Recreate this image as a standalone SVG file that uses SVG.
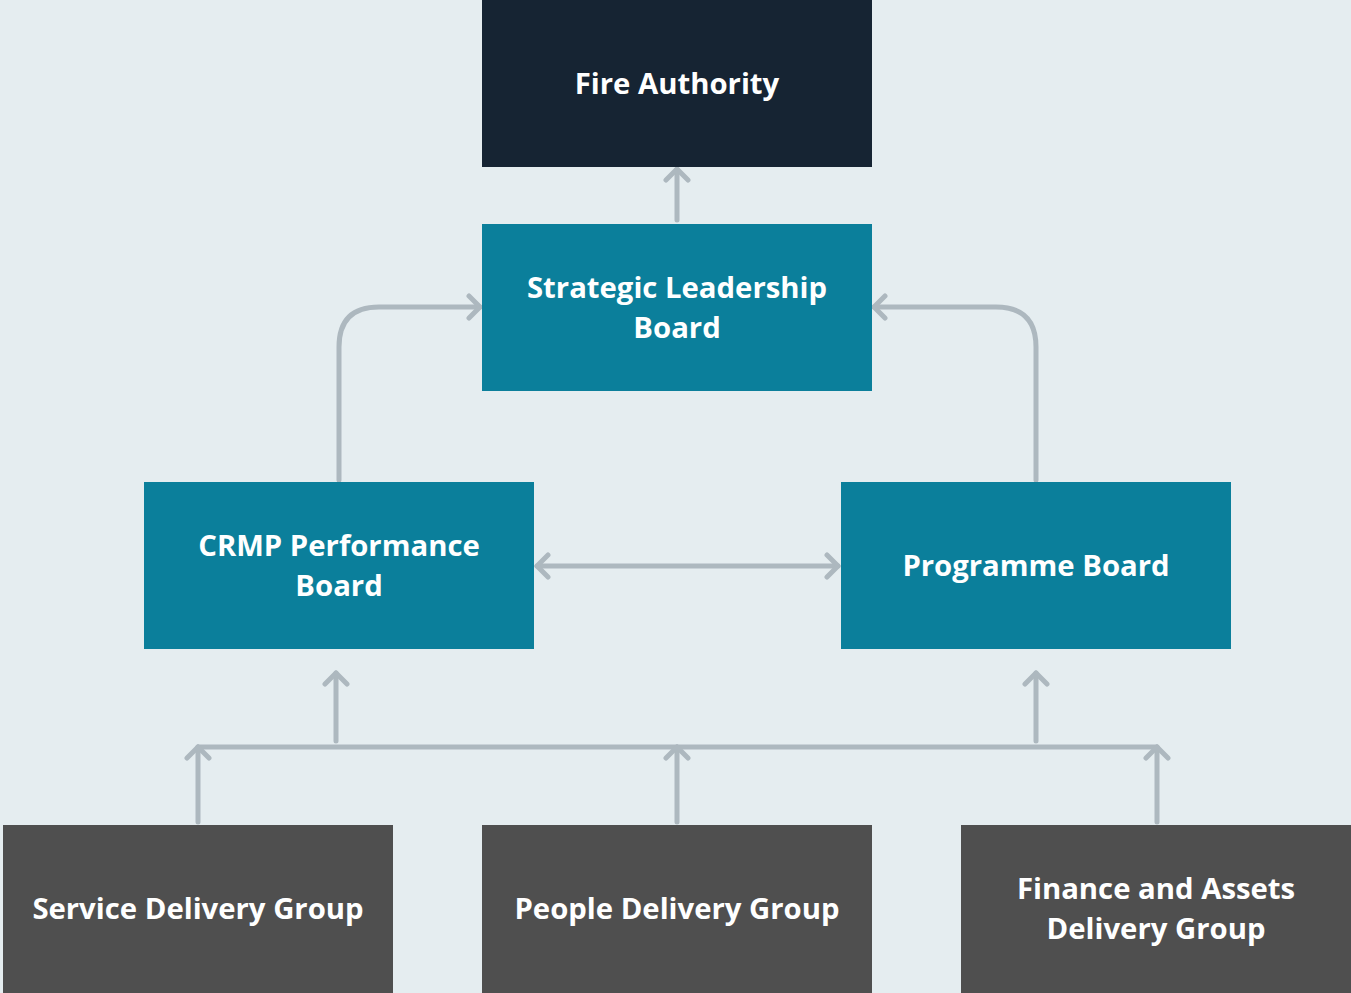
<svg xmlns="http://www.w3.org/2000/svg" width="1351" height="993" viewBox="0 0 1351 993">
<defs>
<style>
.lbl{font-family:"Open Sans","Noto Sans","Liberation Sans",sans-serif;font-weight:700;font-size:29.3px;fill:#ffffff;text-anchor:middle}
.navy{fill:#162433}
.teal{fill:#0b7f9b}
.grey{fill:#4f4f4f}
.c{fill:none;stroke:#adb8bf;stroke-width:5;stroke-linecap:round;stroke-linejoin:round}
</style>
<marker id="ah" viewBox="-14 -14 28 28" markerWidth="28" markerHeight="28" markerUnits="userSpaceOnUse" refX="0" refY="0" orient="auto-start-reverse">
<path d="M-11,-11 L0,0 L-11,11" fill="none" stroke="#adb8bf" stroke-width="5" stroke-linecap="round" stroke-linejoin="round"/>
</marker>
</defs>
<rect width="1351" height="993" fill="#e5edf0"/>
<g id="connectors">
<path class="c" d="M677,220 L677,169" marker-end="url(#ah)"/>
<path class="c" d="M339,480 L339,347 Q339,307 379,307 L480,307" marker-end="url(#ah)"/>
<path class="c" d="M1036,480 L1036,347 Q1036,307 996,307 L874,307" marker-end="url(#ah)"/>
<path class="c" d="M537,566 L838,566" marker-start="url(#ah)" marker-end="url(#ah)"/>
<path class="c" d="M198,747 L1157,747"/>
<path class="c" d="M198,822 L198,747" marker-end="url(#ah)"/>
<path class="c" d="M677,822 L677,747" marker-end="url(#ah)"/>
<path class="c" d="M1157,822 L1157,747" marker-end="url(#ah)"/>
<path class="c" d="M336,741 L336,673" marker-end="url(#ah)"/>
<path class="c" d="M1036,741 L1036,673" marker-end="url(#ah)"/>
</g>
<g id="fire-authority"><rect class="navy" x="482" y="0" width="390" height="167"/><text class="lbl" x="677" y="94">Fire Authority</text></g>
<g id="strategic-leadership-board"><rect class="teal" x="482" y="224" width="390" height="167"/><text class="lbl" x="677" y="298">Strategic Leadership</text><text class="lbl" x="677" y="338">Board</text></g>
<g id="crmp-performance-board"><rect class="teal" x="144" y="482" width="390" height="167"/><text class="lbl" x="339" y="556">CRMP Performance</text><text class="lbl" x="339" y="596">Board</text></g>
<g id="programme-board"><rect class="teal" x="841" y="482" width="390" height="167"/><text class="lbl" x="1036" y="576">Programme Board</text></g>
<g id="service-delivery-group"><rect class="grey" x="3" y="825" width="390" height="168"/><text class="lbl" x="198" y="919">Service Delivery Group</text></g>
<g id="people-delivery-group"><rect class="grey" x="482" y="825" width="390" height="168"/><text class="lbl" x="677" y="919">People Delivery Group</text></g>
<g id="finance-assets-delivery-group"><rect class="grey" x="961" y="825" width="390" height="168"/><text class="lbl" x="1156" y="899">Finance and Assets</text><text class="lbl" x="1156" y="939">Delivery Group</text></g>
</svg>
